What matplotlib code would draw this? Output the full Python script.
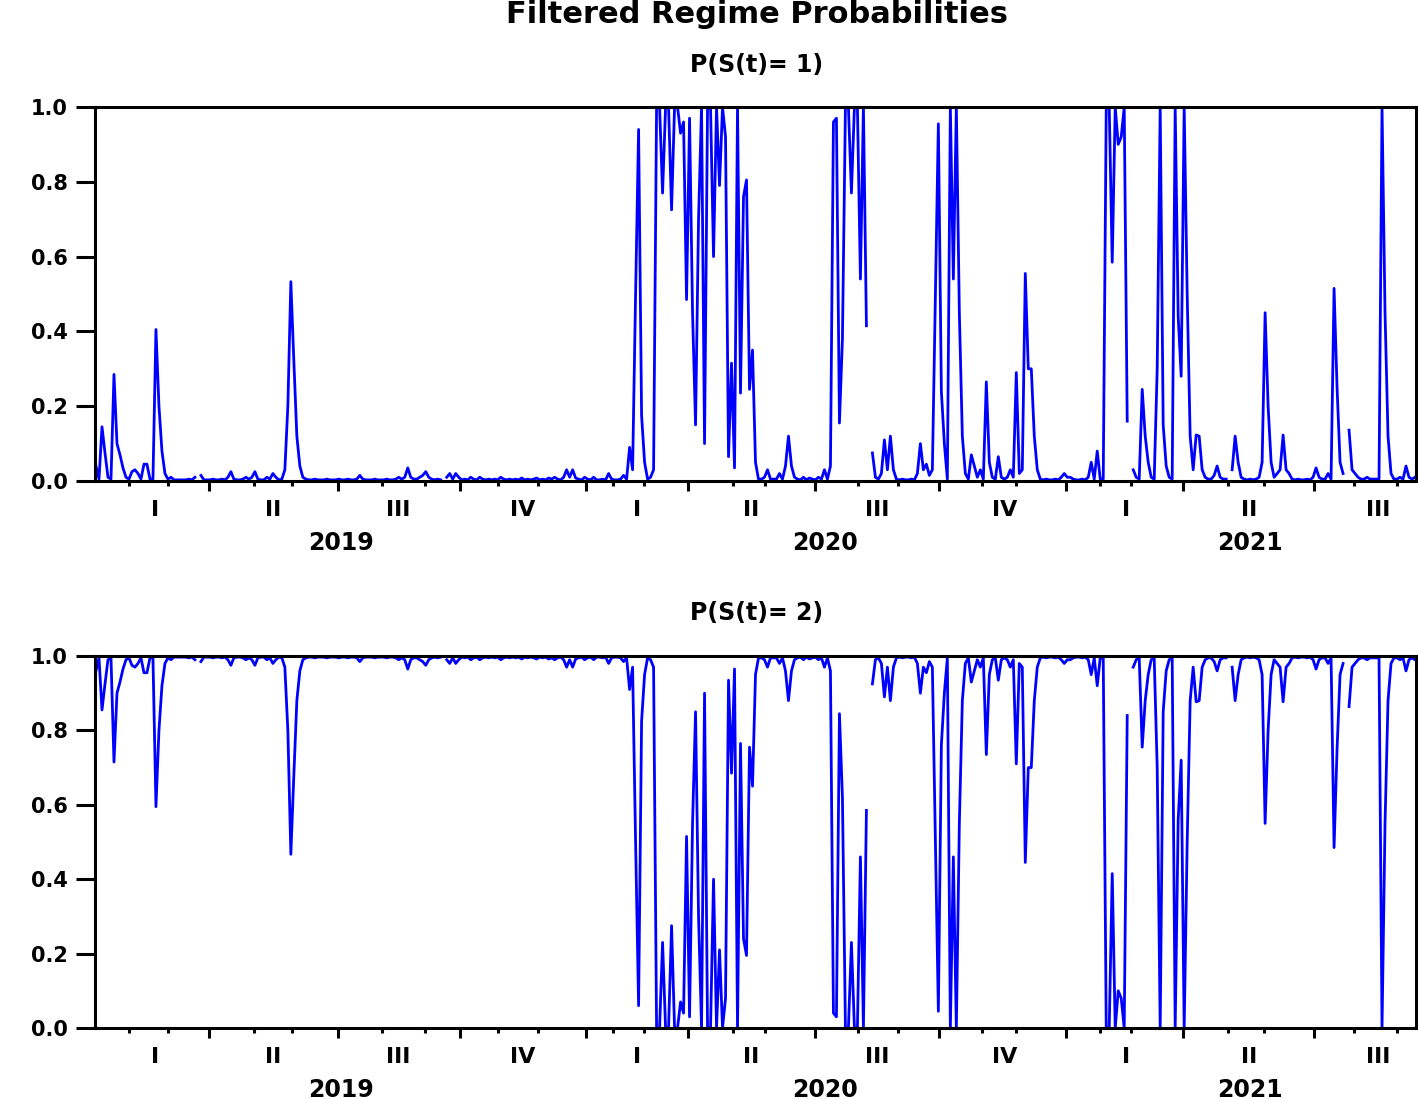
import matplotlib.pyplot as plt
import numpy as np

plt.rcParams['font.family'] = ['DejaVu Sans']
plt.rcParams['font.weight'] = 'bold'

nan = np.nan

# filtered probability of regime 1, one value per observation
p1_2019 = [0.04, 0.005, 0.145, 0.075, 0.01, 0.005, 0.285, 0.10, 0.07, 0.035,
           0.01, 0.005, 0.025, 0.03, 0.02, 0.005, 0.045, 0.045, 0.005, 0.005,
           0.405, 0.20, 0.08, 0.02, 0.005, 0.01, 0.003, 0.003, 0.003, 0.003,
           0.003, 0.005, 0.003, 0.01, nan, 0.015, 0.003, 0.003, 0.003, 0.005,
           0.003, 0.003, 0.005, 0.003, 0.01, 0.025, 0.005, 0.003, 0.003, 0.005,
           0.01, 0.005, 0.01, 0.025, 0.005, 0.003, 0.003, 0.01, 0.005, 0.02,
           0.01, 0.003, 0.005, 0.03, 0.2, 0.533, 0.32, 0.12, 0.04, 0.01,
           0.005, 0.003, 0.003, 0.005, 0.003, 0.003, 0.003, 0.005, 0.003, 0.003,
           0.003, 0.005, 0.003, 0.003, 0.005, 0.003, 0.003, 0.005, 0.015, 0.005,
           0.003, 0.003, 0.003, 0.005, 0.003, 0.003, 0.003, 0.005, 0.003, 0.003,
           0.005, 0.01, 0.005, 0.01, 0.035, 0.01, 0.005, 0.005, 0.01, 0.015,
           0.025, 0.01, 0.005, 0.003, 0.005, 0.003, nan, 0.01, 0.02, 0.005,
           0.02, 0.01, 0.003, 0.005, 0.003, 0.01, 0.005, 0.003, 0.01, 0.005,
           0.003, 0.005, 0.003, 0.005, 0.003, 0.01, 0.005, 0.003, 0.005, 0.003,
           0.005, 0.003, 0.008, 0.003, 0.005, 0.003, 0.005, 0.008, 0.003, 0.005,
           0.003, 0.008, 0.005, 0.01, 0.005, 0.003, 0.01, 0.03, 0.01, 0.03,
           0.008, 0.005, 0.003, 0.01]
p1_2020 = [0.005, 0.003, 0.01, 0.003, 0.003, 0.005,
           0.003, 0.02, 0.005, 0.003, 0.003, 0.005, 0.015, 0.005, 0.09, 0.03,
           0.5, 0.94, 0.175, 0.05, 0.005, 0.01, 0.03, 1.0, 1.0, 0.77,
           1.0, 1.0, 0.725, 1.0, 1.0, 0.93, 0.96, 0.485, 0.97, 0.45,
           0.15, 0.7, 1.0, 0.10, 1.0, 1.0, 0.6, 1.0, 0.79, 1.0,
           0.92, 0.065, 0.315, 0.035, 1.0, 0.235, 0.76, 0.805, 0.245, 0.35,
           0.05, 0.005, 0.005, 0.01, 0.03, 0.005, 0.005, 0.005, 0.02, 0.005,
           0.04, 0.12, 0.04, 0.01, 0.005, 0.003, 0.01, 0.003, 0.008, 0.005,
           0.003, 0.01, 0.005, 0.03, 0.005, 0.04, 0.96, 0.97, 0.155, 0.38,
           1.0, 1.0, 0.77, 1.0, 1.0, 0.54, 1.0, 0.415, nan, 0.075,
           0.01, 0.005, 0.02, 0.11, 0.03, 0.12, 0.03, 0.005, 0.003, 0.005,
           0.003, 0.003, 0.005, 0.003, 0.02, 0.10, 0.03, 0.045, 0.015, 0.03,
           0.5, 0.955, 0.24, 0.10, 0.005, 1.0, 0.54, 1.0, 0.45, 0.12,
           0.02, 0.005, 0.07, 0.04, 0.01, 0.03, 0.005, 0.265, 0.05, 0.01,
           0.005, 0.065, 0.01, 0.005, 0.01, 0.03, 0.01, 0.29, 0.02, 0.03,
           0.555, 0.30, 0.30, 0.12, 0.03, 0.005, 0.003, 0.005, 0.003, 0.003,
           0.005, 0.003, 0.01, 0.02]
p1_2021 = [0.01, 0.01, 0.005, 0.003, 0.003, 0.005,
           0.003, 0.01, 0.05, 0.005, 0.08, 0.005, 0.005, 1.0, 1.0, 0.585,
           1.0, 0.9, 0.92, 1.0, 0.16, nan, 0.03, 0.01, 0.005, 0.245,
           0.12, 0.05, 0.01, 0.005, 0.3, 1.0, 0.15, 0.04, 0.01, 0.005,
           1.0, 0.44, 0.28, 1.0, 0.5, 0.12, 0.03, 0.123, 0.12, 0.03,
           0.01, 0.005, 0.005, 0.015, 0.04, 0.01, 0.005, 0.005, nan, 0.03,
           0.12, 0.05, 0.01, 0.005, 0.003, 0.005, 0.003, 0.005, 0.01, 0.05,
           0.45, 0.2, 0.05, 0.01, 0.02, 0.03, 0.123, 0.03, 0.02, 0.005,
           0.003, 0.005, 0.003, 0.003, 0.005, 0.003, 0.01, 0.035, 0.01, 0.005,
           0.005, 0.02, 0.005, 0.515, 0.25, 0.05, 0.02, nan, 0.136, 0.03,
           0.02, 0.01, 0.005, 0.005, 0.01, 0.005, 0.005, 0.005, 0.005, 1.0,
           0.45, 0.12, 0.02, 0.005, 0.005, 0.01, 0.005, 0.04, 0.01, 0.005, 0.01]

# axis marks, in observation numbers
quarter_ticks = [37.67, 80.67, 121.33, 163.33, 197.33, 240, 281.33, 323.67, 362.67, 406.33]
month_ticks = [11, 24, 52.67, 65.33, 95.33, 109.67, 134, 147.33, 172.33, 182.67, 212.33,
               223.33, 254.33, 267.67, 295.67, 307, 335, 345.33, 377.67, 389.67, 419.67, 434]
quarter_labels = ["I", "II", "III", "IV", "I", "II", "III", "IV", "I", "II", "III"]
quarter_pos = [19.67, 59, 100.67, 142.33, 180.33, 218.67, 260.67, 303, 343.67, 384.67, 427.67]
year_labels = ["2019", "2020", "2021"]
year_pos = [81.67, 243.33, 385]

p1 = np.array(p1_2019 + p1_2020 + p1_2021)
p2 = 1 - p1
obs = np.arange(len(p1))

W, H = 1418, 1099
fig = plt.figure(figsize=(W / 100, H / 100), dpi=100)
fig.text(757 / W, 1 - 23 / H, "Filtered Regime Probabilities", ha="center",
         va="baseline", fontsize=22, fontweight="bold")

panels = [(p1, "P(S(t)= 1)", 107, 481, 72), (p2, "P(S(t)= 2)", 656, 1028, 620)]
for series, name, top, bottom, tbase in panels:
    ax = fig.add_axes([95 / W, 1 - bottom / H, 1321 / W, (bottom - top) / H])
    ax.plot(obs, series, color="#0000ff", lw=2.0)
    ax.set_xlim(-1 / 3, 440 + 1 / 3)
    ax.set_ylim(0, 1)
    for s in ax.spines.values():
        s.set_linewidth(2.2)
    ax.set_yticks(np.arange(0, 1.01, 0.2))
    ax.set_yticklabels(["%.1f" % v for v in np.arange(0, 1.01, 0.2)])
    ax.tick_params(axis="y", direction="out", length=13.7, width=2.2, pad=5.8, labelsize=15)
    ax.set_xticks(quarter_ticks)
    ax.set_xticks(month_ticks, minor=True)
    ax.tick_params(axis="x", which="major", direction="out", length=7, width=2.2, labelbottom=False)
    ax.tick_params(axis="x", which="minor", direction="out", length=3.6, width=2.2)
    for lab, pos in zip(quarter_labels, quarter_pos):
        ax.annotate(lab, xy=(pos, 0), xycoords=("data", "axes fraction"), xytext=(0, -21),
                    textcoords="offset points", ha="center", va="center", fontsize=16,
                    annotation_clip=False)
    for lab, pos in zip(year_labels, year_pos):
        ax.annotate(lab, xy=(pos, 0), xycoords=("data", "axes fraction"), xytext=(0, -44.5),
                    textcoords="offset points", ha="center", va="center", fontsize=17,
                    annotation_clip=False)
    fig.text(757 / W, 1 - tbase / H, name, ha="center", va="baseline", fontsize=17)

fig.savefig("out.png", dpi=100)
